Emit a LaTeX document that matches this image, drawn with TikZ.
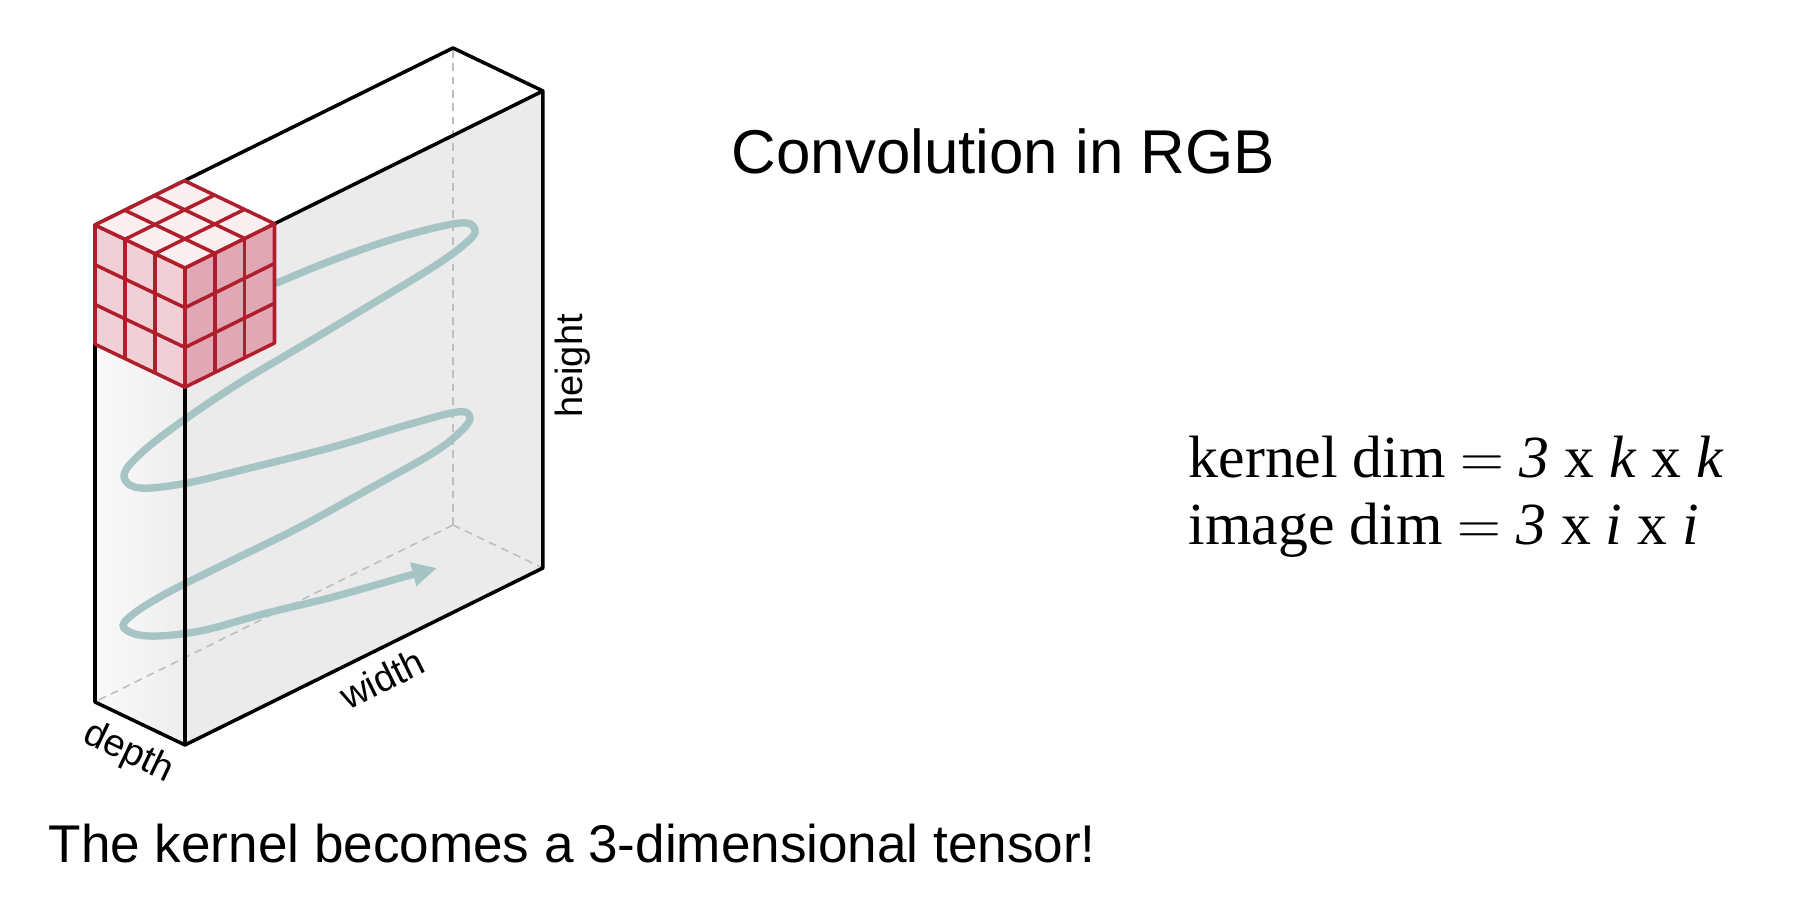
\documentclass[tikz,border=0pt]{standalone}
\usepackage{fontspec}
\setmainfont{Liberation Sans}
\newfontfamily\dimfont{Liberation Serif}
\usetikzlibrary{arrows.meta}
\definecolor{kernelred}{RGB}{176,30,44}
\definecolor{kerneltop}{RGB}{250,238,240}
\definecolor{kernelleft}{RGB}{240,208,214}
\definecolor{kernelfront}{RGB}{224,168,180}
\definecolor{sweep}{RGB}{166,196,196}
\definecolor{hidden}{RGB}{190,190,190}

\begin{document}
\begin{tikzpicture}
\tikzset{
    edge/.style={line width=1pt, line join=round},
    hidden edge/.style={hidden, line width=0.45pt, dash pattern=on 2.2pt off 1.6pt},
    cell/.style={kernelred, line width=1pt, line join=round},
    sweep line/.style={sweep, line width=2.1pt, line cap=round, -{Triangle[length=7pt,width=6.5pt]}},
    axis label/.style={font=\fontsize{10.8}{13}\selectfont, inner sep=0pt}
}
\useasboundingbox (0,0) rectangle (18.08,9.06);

\begin{scope}[shift={(0.95,2.04)}, x={(0.2983cm,0.1475cm)}, y={(0cm,0.3975cm)}, z={(0.3cm,-0.1433cm)}]
% Image faces
\fill[black!8] (0,0,3) -- (12,0,3) -- (12,12,3) -- (0,12,3) -- cycle;
\shade[left color=black!2, right color=black!7] (0,0,0) -- (0,0,3) -- (0,12,3) -- (0,12,0) -- cycle;
% Hidden edges
\draw[hidden edge] (12,0,0) -- (12,12,0);
\draw[hidden edge] (12,0,0) -- (0,0,0);
\draw[hidden edge] (12,0,0) -- (12,0,3);
\end{scope}

% Sweep of the kernel
\draw[sweep line] plot[smooth, tension=0.6] coordinates {
    (2.77,6.23) (3.33,6.46) (4.00,6.69) (4.60,6.83) (4.75,6.76) (4.66,6.63)
    (4.33,6.39) (3.67,5.99) (3.00,5.59) (2.33,5.19) (1.70,4.76) (1.35,4.47)
    (1.24,4.29) (1.40,4.18) (1.87,4.23) (2.50,4.38) (3.33,4.59) (4.00,4.79)
    (4.57,4.94) (4.70,4.88) (4.60,4.74) (4.33,4.53) (3.67,4.16) (3.00,3.79)
    (2.33,3.46) (1.67,3.13) (1.32,2.91) (1.24,2.78) (1.48,2.70) (2.00,2.75)
    (2.67,2.93) (3.33,3.09) (4.00,3.28) (4.37,3.38)};

\begin{scope}[shift={(0.95,2.04)}, x={(0.2983cm,0.1475cm)}, y={(0cm,0.3975cm)}, z={(0.3cm,-0.1433cm)}]
% Image edges
\draw[edge] (0,0,0) -- (0,0,3) -- (12,0,3) -- (12,12,3) -- (12,12,0) -- (0,12,0) -- cycle;
\draw[edge] (0,0,3) -- (0,12,3) -- (12,12,3);
% Kernel cube
\filldraw[cell, fill=kernelleft] (0,9,0) -- (0,9,3) -- (0,12,3) -- (0,12,0) -- cycle;
\filldraw[cell, fill=kernelfront] (0,9,3) -- (3,9,3) -- (3,12,3) -- (0,12,3) -- cycle;
\filldraw[cell, fill=kerneltop] (0,12,0) -- (0,12,3) -- (3,12,3) -- (3,12,0) -- cycle;
\foreach \i in {1,2} {
    \draw[cell] (\i,12,0) -- (\i,12,3);
    \draw[cell] (0,12,\i) -- (3,12,\i);
    \draw[cell] (0,9+\i,0) -- (0,9+\i,3);
    \draw[cell] (0,9,\i) -- (0,12,\i);
    \draw[cell] (0,9+\i,3) -- (3,9+\i,3);
    \draw[cell] (\i,9,3) -- (\i,12,3);
}
\end{scope}

% Labels
\node[axis label, rotate=90, anchor=base] (heightlabel) at (5.82,5.40) {height};
\node[axis label, rotate=26.3, anchor=base] (widthlabel) at (3.88,2.15) {width};
\node[axis label, rotate=-25.5, anchor=base] (depthlabel) at (1.24,1.44) {depth};
\node[anchor=base west, inner sep=0pt, font=\fontsize{17.6}{21}\selectfont] (title) at (7.31,7.32) {Convolution in RGB};
\node[anchor=base west, inner sep=0pt, font=\fontsize{15.1}{18}\selectfont] (caption) at (0.48,0.44) {The kernel becomes a 3-dimensional tensor!};
\node[anchor=base west, inner sep=0pt, font=\dimfont\fontsize{17}{20}\selectfont] (kerneldim) at (11.88,4.29) {kernel dim $=$ \textit{3} x \textit{k} x \textit{k}};
\node[anchor=base west, inner sep=0pt, font=\dimfont\fontsize{17}{20}\selectfont] (imagedim) at (11.88,3.62) {image dim $=$ \textit{3} x \textit{i} x \textit{i}};
\end{tikzpicture}
\end{document}
